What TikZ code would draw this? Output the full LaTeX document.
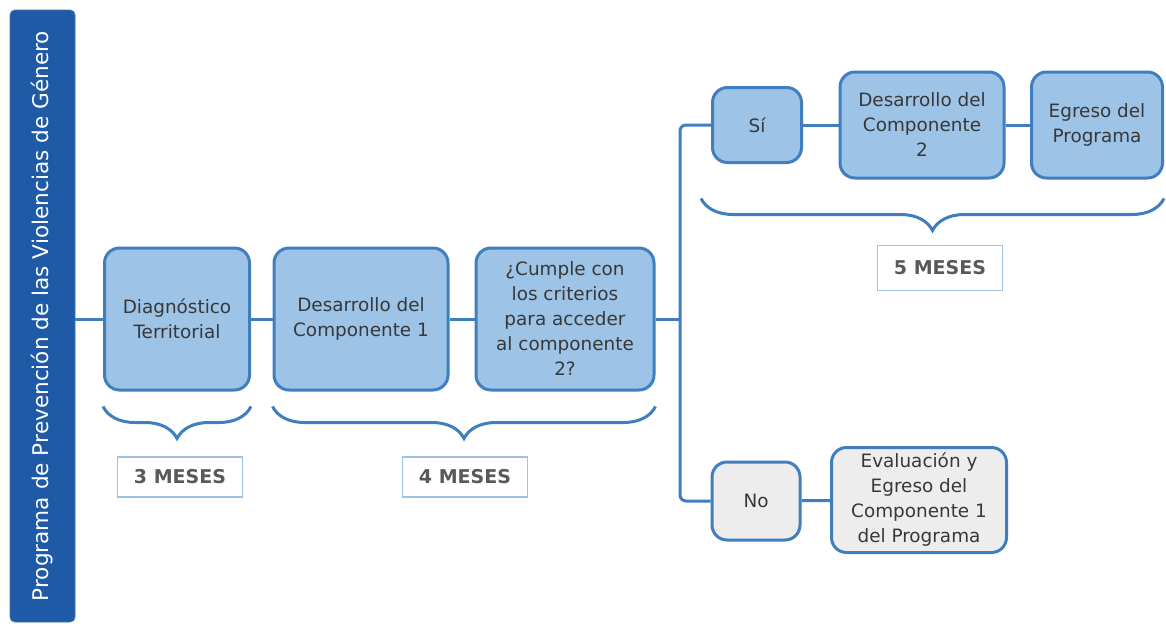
\documentclass[tikz,border=0pt]{standalone}
\usepackage{fontspec}
\setmainfont{DejaVu Sans}
\usepackage{tikz}
\usetikzlibrary{positioning}
\usetikzlibrary{chains}
\usetikzlibrary{decorations.pathreplacing}
\definecolor{barblue}{HTML}{1F5AA6}
\definecolor{boxblue}{HTML}{9DC3E6}
\definecolor{edgeblue}{HTML}{3F7FC0}
\definecolor{boxgray}{HTML}{EDEDED}
\definecolor{textgray}{HTML}{383838}
\definecolor{labelgray}{HTML}{595959}

\begin{document}
\begin{tikzpicture}[
        x=0.5pt,y=-0.5pt,
        start chain,
        every node/.style={font=\fontsize{9.2}{12.5}\selectfont,text=textgray},
        item/.style={rectangle,rounded corners=7.5pt,line width=1.5pt,
                     draw=edgeblue,fill=boxblue,align=center,inner sep=2pt},
        gitem/.style={item,fill=boxgray},
        bar/.style={rectangle,rounded corners=2.5pt,fill=barblue,draw=barblue!85!white,
                    minimum width=306pt,minimum height=32.5pt,
                    font=\fontsize{10.8}{13}\selectfont,text=white},
        span/.style={rectangle,draw=boxblue,line width=0.8pt,fill=white,
                     minimum width=62.5pt,minimum height=20pt,
                     font=\fontsize{9.5}{12}\selectfont\bfseries,text=labelgray},
        link/.style={draw=edgeblue,line width=1.5pt},
        curly/.style={draw=edgeblue,line width=1.5pt,decorate,
                      decoration={brace,mirror,amplitude=16pt}}
      ]
      \fill[white] (0,0) rectangle (1166,627);
      \useasboundingbox (0,0) rectangle (1166,627);

      \node (prog) [bar,rotate=90] at (42.5,316) {Programa de Prevención de las Violencias de Género};

      \node (diag)   [item,minimum width=72.5pt,minimum height=71pt] at (177,319) {Diagnóstico\\Territorial};
      \node (comp1)  [item,minimum width=87pt,minimum height=71pt] at (361,319) {Desarrollo del\\Componente 1};
      \node (cumple) [item,minimum width=89pt,minimum height=71pt] at (565,319) {¿Cumple con\\los criterios\\para acceder\\al componente\\2?};
      \coordinate (split) at (680,319);

      \node (si)     [item,minimum width=44.5pt,minimum height=37.5pt] at (757,125) {Sí};
      \node (comp2)  [item,minimum width=82pt,minimum height=53pt] at (922,125) {Desarrollo del\\Componente\\2};
      \node (egreso) [item,minimum width=65.5pt,minimum height=53pt] at (1097,125) {Egreso del\\Programa};

      \node (no)     [gitem,minimum width=44pt,minimum height=39pt] at (756,501) {No};
      \node (eval)   [gitem,minimum width=87.5pt,minimum height=52.5pt] at (919,500) {Evaluación y\\Egreso del\\Componente 1\\del Programa};

      % connectors
      \draw[link] (prog.south |- diag.west) -- (diag.west);
      {
        [start chain] \chainin(diag); \chainin(comp1) [join=by link]; \chainin(cumple) [join=by link];
        [start chain] \chainin(si); \chainin(comp2) [join=by link]; \chainin(egreso) [join=by link];
        [start chain] \chainin(no); \chainin(eval) [join=by link];
      }
      \draw[link] (cumple.east) -- (split);
      \draw[link,rounded corners=3pt] (si.west) -| (split) |- (no.west);

      % time spans
      \draw[curly] ([yshift=-7.5pt]diag.south west) -- ([yshift=-7.5pt]diag.south east);
      \draw[curly] ([yshift=-7.5pt]comp1.south west) -- ([yshift=-7.5pt]cumple.south east);
      \draw[curly] ([xshift=-5pt,yshift=-9.5pt]si.west |- comp2.south) -- ([yshift=-9.5pt]egreso.south east);

      \node (m3) [span] at (180,477) {3 MESES};
      \node (m4) [span] at (465,477) {4 MESES};
      \node (m5) [span,minimum height=22.5pt] at (940,268) {5 MESES};
    \end{tikzpicture}
\end{document}
